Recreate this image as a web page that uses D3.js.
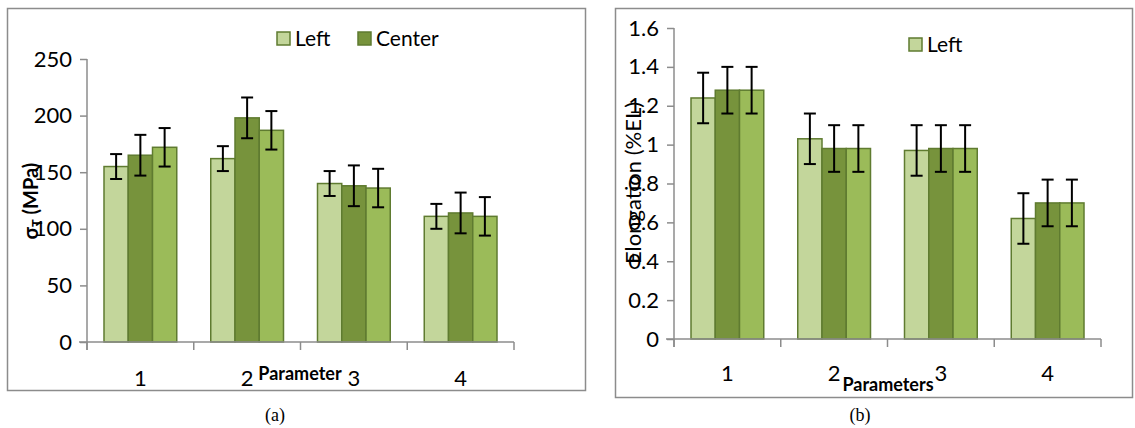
<!DOCTYPE html>
<html>
<head>
<meta charset="utf-8">
<script src="https://cdn.jsdelivr.net/npm/d3@7"></script>
<style>
  body { margin: 0; background: #fff; }
  svg { display: block; font-family: Lato, "Open Sans", sans-serif; }
</style>
</head>
<body>
<div id="chart"></div>
<script>
// data
var categories = ["1", "2", "3", "4"];
var seriesNames = ["Left", "Center", "Right"];

var strengthLeft = [155, 162, 140, 111];
var strengthCenter = [165, 198, 138, 114];
var strengthRight = [172, 187, 136, 111];
var strengthErrLeft = [11, 11, 11, 11];
var strengthErrCenter = [18, 18, 18, 18];
var strengthErrRight = [17, 17, 17, 17];
var strengthTicks = [0, 50, 100, 150, 200, 250];

var elongLeft = [1.24, 1.03, 0.97, 0.62];
var elongCenter = [1.28, 0.98, 0.98, 0.70];
var elongRight = [1.28, 0.98, 0.98, 0.70];
var elongErrLeft = [0.13, 0.13, 0.13, 0.13];
var elongErrCenter = [0.12, 0.12, 0.12, 0.12];
var elongErrRight = [0.12, 0.12, 0.12, 0.12];
var elongTicks = [0, 0.2, 0.4, 0.6, 0.8, 1, 1.2, 1.4, 1.6];

var colors = ["#c3d69b", "#77933c", "#9bbb59"];
var barStroke = "#5f7b30";
var grey = "#8c8c8c";

var svg = d3.select("#chart").append("svg")
    .attr("width", 1135).attr("height", 428);

function drawChart(opt) {
    // frame
    svg.append("rect")
        .attr("x", opt.frame[0] + 0.5).attr("y", opt.frame[1] + 0.5)
        .attr("width", opt.frame[2]).attr("height", opt.frame[3])
        .attr("fill", "none").attr("stroke", grey).attr("stroke-width", 1.5);

    var x = d3.scaleBand().domain(categories).range([opt.x0, opt.x1]);
    var xs = d3.scaleBand().domain(seriesNames).range([17, x.bandwidth() - 17]);
    var y = d3.scaleLinear().domain([0, opt.ticks[opt.ticks.length - 1]]).range([opt.y0, opt.yTop]);

    var g = svg.append("g");

    // y axis
    var yAxis = g.append("g").attr("transform", "translate(" + opt.x0 + ",0)")
        .call(d3.axisLeft(y).tickValues(opt.ticks).tickSize(7).tickPadding(8)
            .tickFormat(function (d) { return d; }));
    yAxis.select(".domain").attr("stroke", grey).attr("stroke-width", 1.5)
        .attr("d", "M0," + (opt.y0 + 8) + "V" + opt.yTop);
    yAxis.selectAll("line").attr("stroke", grey).attr("stroke-width", 1.5);
    yAxis.selectAll("text").attr("font-size", 22).attr("fill", "#000")
        .attr("font-family", "Lato, sans-serif");

    // bars
    var rows = [];
    categories.forEach(function (c, i) {
        seriesNames.forEach(function (s, j) {
            rows.push({ cat: c, s: s, v: opt.values[j][i], e: opt.errors[j][i], j: j });
        });
    });
    g.selectAll(".bar").data(rows).enter().append("rect")
        .attr("class", "bar")
        .attr("x", function (d) { return x(d.cat) + xs(d.s); })
        .attr("y", function (d) { return y(d.v); })
        .attr("width", xs.bandwidth())
        .attr("height", function (d) { return y(0) - y(d.v); })
        .attr("fill", function (d) { return colors[d.j]; })
        .attr("stroke", barStroke).attr("stroke-width", 1.5);

    // x axis
    var xAxis = g.append("g").attr("transform", "translate(0," + opt.y0 + ")")
        .call(d3.axisBottom(x).tickSize(0).tickPadding(opt.xPad));
    xAxis.select(".domain").attr("stroke", grey).attr("stroke-width", 1.5)
        .attr("d", "M" + (opt.x0 - 8) + ",0H" + opt.x1);
    xAxis.selectAll("text").attr("font-size", 22).attr("fill", "#000")
        .attr("font-family", "Lato, sans-serif");
    var bounds = categories.map(function (c) { return x(c); }).concat([opt.x1]);
    xAxis.selectAll(".sep").data(bounds).enter().append("line")
        .attr("x1", function (d) { return d; }).attr("x2", function (d) { return d; })
        .attr("y1", 0).attr("y2", 8)
        .attr("stroke", grey).attr("stroke-width", 1.5);

    // error bars
    var eb = g.selectAll(".err").data(rows).enter().append("g")
        .attr("transform", function (d) { return "translate(" + (x(d.cat) + xs(d.s) + xs.bandwidth() / 2) + ",0)"; })
        .attr("stroke", "#000").attr("stroke-width", 2);
    eb.append("line").attr("y1", function (d) { return y(d.v + d.e); }).attr("y2", function (d) { return y(d.v - d.e); });
    eb.append("line").attr("x1", -6).attr("x2", 6)
        .attr("y1", function (d) { return y(d.v + d.e); }).attr("y2", function (d) { return y(d.v + d.e); });
    eb.append("line").attr("x1", -6).attr("x2", 6)
        .attr("y1", function (d) { return y(d.v - d.e); }).attr("y2", function (d) { return y(d.v - d.e); });

    // legend
    opt.legend.forEach(function (l) {
        svg.append("rect").attr("x", l.x).attr("y", l.y).attr("width", 13).attr("height", 13)
            .attr("fill", colors[l.j]).attr("stroke", barStroke).attr("stroke-width", 1.5);
        svg.append("text").attr("x", l.x + 18).attr("y", l.y + 14)
            .attr("font-size", 21).text(seriesNames[l.j]);
    });

    // axis titles
    svg.append("text").attr("x", opt.xTitle[0]).attr("y", opt.xTitle[1])
        .attr("text-anchor", "middle").attr("font-size", 18).attr("font-weight", "bold")
        .text(opt.xLabel);
    var yt = svg.append("text")
        .attr("transform", "translate(" + opt.yTitle[0] + "," + opt.yTitle[1] + ") rotate(-90)")
        .attr("text-anchor", "middle").attr("font-size", opt.yTitleSize)
        .attr("font-weight", opt.yTitleWeight);
    opt.yLabel(yt);

    // caption
    svg.append("text").attr("x", opt.caption[0]).attr("y", opt.caption[1])
        .attr("text-anchor", "middle").attr("font-size", 18)
        .style("font-family", "'Liberation Serif', serif").text(opt.captionText);
}

drawChart({
    frame: [7, 8, 578, 382],
    x0: 87, x1: 514, y0: 342, yTop: 59,
    ticks: strengthTicks,
    values: [strengthLeft, strengthCenter, strengthRight],
    errors: [strengthErrLeft, strengthErrCenter, strengthErrRight],
    xPad: 28,
    legend: [{ x: 277, y: 32, j: 0 }, { x: 358, y: 32, j: 1 }],
    xLabel: "Parameter", xTitle: [300, 380],
    yTitle: [38, 201], yTitleSize: 20, yTitleWeight: "bold",
    yLabel: function (t) {
        t.append("tspan").text("σ");
        t.append("tspan").attr("font-size", 13).attr("dy", 4).text("T");
        t.append("tspan").attr("dy", -4).text(" (MPa)");
    },
    caption: [275, 421], captionText: "(a)"
});

drawChart({
    frame: [615, 8, 517, 389],
    x0: 674, x1: 1101, y0: 339, yTop: 28,
    ticks: elongTicks,
    values: [elongLeft, elongCenter, elongRight],
    errors: [elongErrLeft, elongErrCenter, elongErrRight],
    xPad: 26,
    legend: [{ x: 909, y: 38, j: 0 }],
    xLabel: "Parameters", xTitle: [888, 391],
    yTitle: [641, 183], yTitleSize: 22, yTitleWeight: "normal",
    yLabel: function (t) { t.text("Elongation (%EL)"); },
    caption: [860, 421], captionText: "(b)"
});
</script>
</body>
</html>
